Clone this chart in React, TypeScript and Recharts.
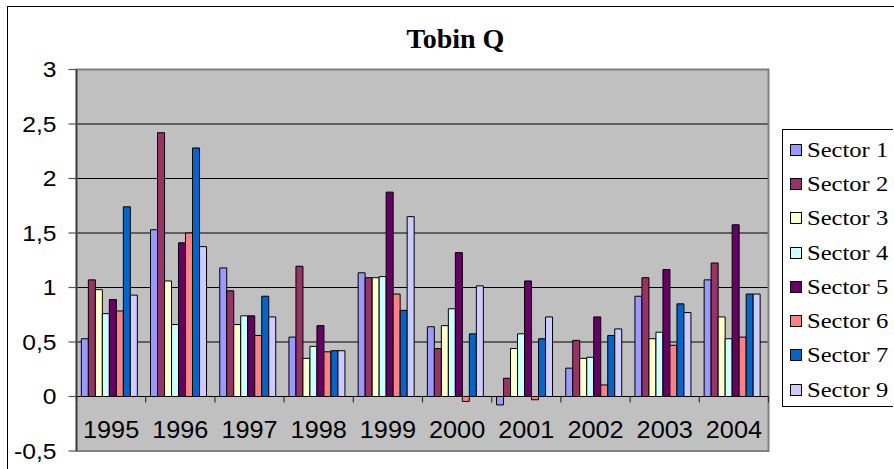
import React from 'react';
import { BarChart, Bar, XAxis, YAxis, CartesianGrid, ReferenceLine, ReferenceArea } from 'recharts';

const years = ['1995', '1996', '1997', '1998', '1999', '2000', '2001', '2002', '2003', '2004'];
const sector1 = [0.53, 1.53, 1.18, 0.545, 1.135, 0.64, -0.077, 0.26, 0.92, 1.07];
const sector2 = [1.07, 2.42, 0.97, 1.195, 1.09, 0.44, 0.167, 0.515, 1.09, 1.225];
const sector3 = [0.98, 1.06, 0.66, 0.35, 1.09, 0.65, 0.44, 0.35, 0.53, 0.73];
const sector4 = [0.76, 0.66, 0.74, 0.46, 1.1, 0.805, 0.575, 0.36, 0.59, 0.53];
const sector5 = [0.89, 1.41, 0.74, 0.65, 1.875, 1.32, 1.06, 0.73, 1.165, 1.575];
const sector6 = [0.785, 1.5, 0.56, 0.41, 0.94, -0.045, -0.03, 0.106, 0.47, 0.545];
const sector7 = [1.74, 2.28, 0.92, 0.42, 0.79, 0.575, 0.53, 0.56, 0.85, 0.94];
const sector9 = [0.93, 1.375, 0.73, 0.42, 1.65, 1.015, 0.73, 0.62, 0.77, 0.94];
const yTicks = [-0.5, 0, 0.5, 1, 1.5, 2, 2.5, 3];

const seriesNames = ['Sector 1', 'Sector 2', 'Sector 3', 'Sector 4', 'Sector 5', 'Sector 6', 'Sector 7', 'Sector 9'];
const seriesKeys = ['s1', 's2', 's3', 's4', 's5', 's6', 's7', 's9'];
const seriesColors = ['#9999FF', '#993366', '#FFFFCC', '#CCFFFF', '#660066', '#FF8080', '#0066CC', '#CCCCFF'];
const seriesValues = [sector1, sector2, sector3, sector4, sector5, sector6, sector7, sector9];

const data = years.map((year, i) => {
  const row: Record<string, any> = { year };
  seriesKeys.forEach((k, j) => {
    row[k] = seriesValues[j][i];
  });
  return row;
});

const CHART_W = 885;
const CHART_H = 461;
const MARGIN = { top: 62.5, right: 124.5, bottom: 16, left: 8.5 };
const Y_AXIS_W = 60;
const X_AXIS_H = 1;
const DOMAIN: [number, number] = [-0.5, 3];
const PLOT_H = CHART_H - MARGIN.top - MARGIN.bottom - X_AXIS_H;
const PLOT_W = CHART_W - MARGIN.left - MARGIN.right - Y_AXIS_W;
const ZERO_Y = MARGIN.top + (PLOT_H * (DOMAIN[1] - 0)) / (DOMAIN[1] - DOMAIN[0]);

const fmt = (v: number) => String(v).replace('.', ',');

const YTick = (props: any) => {
  const { x, y, payload } = props;
  return (
    <text
      transform={`translate(${x},${y}) scale(1.12,1)`}
      x={0}
      y={0}
      textAnchor="end"
      dominantBaseline="central"
      fontFamily="'Liberation Sans', Arial, sans-serif"
      fontSize={22}
      fill="#000"
    >
      {fmt(payload.value)}
    </text>
  );
};

const XTick = (props: any) => {
  const { x, payload, index } = props;
  const half = payload && typeof payload.offset === 'number' && payload.offset > 0 ? payload.offset : PLOT_W / years.length / 2;
  return (
    <g>
      <line x1={x - half} x2={x - half} y1={ZERO_Y} y2={ZERO_Y + 6} stroke="#333" strokeWidth={1.2} />
      {index === years.length - 1 && (
        <line x1={x + half} x2={x + half} y1={ZERO_Y} y2={ZERO_Y + 6} stroke="#333" strokeWidth={1.2} />
      )}
      <text
        transform={`translate(${x},${ZERO_Y + 33.5}) scale(1.1,1)`}
        x={0}
        y={0}
        textAnchor="middle"
        dominantBaseline="central"
        fontFamily="'Liberation Sans', Arial, sans-serif"
        fontSize={23}
        fill="#000"
      >
        {payload.value}
      </text>
    </g>
  );
};

const LegendBox = () => (
  <div
    style={{
      position: 'absolute',
      left: 773.5,
      top: 121.5,
      width: 111,
      height: 278,
      borderTop: '1.5px solid #000',
      borderLeft: '1.5px solid #000',
      borderBottom: '1.5px solid #000',
      boxSizing: 'border-box',
      paddingTop: 3,
      background: '#fff',
      overflow: 'hidden',
    }}
  >
    {seriesNames.map((name, i) => (
      <div
        key={name}
        style={{
          height: 34.3,
          display: 'flex',
          alignItems: 'center',
          whiteSpace: 'nowrap',
        }}
      >
        <span
          style={{
            display: 'inline-block',
            width: 12,
            height: 12,
            marginLeft: 7,
            marginRight: 5,
            background: seriesColors[i],
            border: '1.5px solid #000',
            boxSizing: 'border-box',
            flex: 'none',
          }}
        />
        <span
          style={{
            display: 'inline-block',
            fontFamily: "'Liberation Serif', 'Times New Roman', serif",
            fontSize: 21,
            lineHeight: '24px',
            color: '#000',
            transform: 'scaleX(1.17)',
            transformOrigin: 'left center',
          }}
        >
          {name}
        </span>
      </div>
    ))}
  </div>
);

export default function App() {
  return (
    <div
      style={{
        position: 'absolute',
        left: 7,
        top: 6,
        width: 887,
        height: 463,
        borderLeft: '1.5px solid #000',
        borderTop: '1.5px solid #000',
        boxSizing: 'border-box',
        background: '#fff',
      }}
    >
      <div
        style={{
          position: 'absolute',
          left: 347.5,
          top: 15.5,
          width: 200,
          textAlign: 'center',
          lineHeight: '32px',
          fontFamily: "'Liberation Serif', 'Times New Roman', serif",
          fontWeight: 'bold',
          fontSize: 28,
          color: '#000',
        }}
      >
        Tobin Q
      </div>
      <BarChart
        width={CHART_W}
        height={CHART_H}
        data={data}
        margin={MARGIN}
        barCategoryGap="7%"
        barGap={0}
      >
        <CartesianGrid vertical={false} stroke="#000" strokeWidth={1} fill="#C0C0C0" fillOpacity={1} />
        <XAxis
          dataKey="year"
          height={X_AXIS_H}
          axisLine={false}
          tickLine={false}
          tick={<XTick />}
          interval={0}
        />
        <YAxis
          width={Y_AXIS_W}
          domain={DOMAIN}
          ticks={yTicks}
          allowDataOverflow
          axisLine={{ stroke: '#333', strokeWidth: 1.5 }}
          tickLine={{ stroke: '#555', strokeWidth: 1.2 }}
          tickSize={8}
          tickMargin={12}
          tick={<YTick />}
          interval={0}
        />
        <ReferenceArea y1={-0.5} y2={3} fill="none" stroke="#808080" strokeWidth={2} ifOverflow="visible" />
        {seriesKeys.map((k, i) => (
          <Bar
            key={k}
            dataKey={k}
            name={seriesNames[i]}
            fill={seriesColors[i]}
            stroke="#000"
            strokeWidth={1}
            isAnimationActive={false}
          />
        ))}
        <ReferenceLine y={0} stroke="#000" strokeWidth={1.2} />
      </BarChart>
      <LegendBox />
    </div>
  );
}
